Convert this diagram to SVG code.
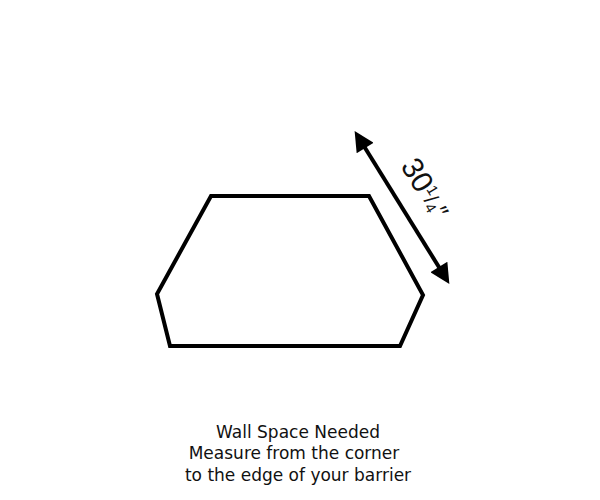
<svg xmlns="http://www.w3.org/2000/svg" width="600" height="500" viewBox="0 0 600 500">
<style>
.shape{fill:none;stroke:#000;stroke-width:4;stroke-linejoin:miter}
.dim{stroke:#000;stroke-width:4}
.lbl{font-family:"DejaVu Sans","Liberation Sans",Arial,sans-serif;font-size:17px;fill:#111;text-anchor:middle}
.dimtxt{font-family:"Liberation Sans",Arial,sans-serif;fill:#111}
</style>
<defs>
<marker id="ah" viewBox="0 0 10 10" refX="3" refY="5" markerWidth="5.5" markerHeight="5" orient="auto-start-reverse" markerUnits="strokeWidth">
<path d="M0,0 L10,5 L0,10 z" fill="#000"/>
</marker>
</defs>
<rect width="600" height="500" fill="#fff"/>
<g id="wall-shape">
<polygon class="shape" points="211,196 369,196 423,295 400,346 170,346 157,294"/>
</g>
<g id="connectors">
<line class="dim" x1="362" y1="143" x2="442" y2="272" marker-start="url(#ah)" marker-end="url(#ah)"/>
</g>
<g id="dimension-label">
<text class="dimtxt" transform="translate(400,166) rotate(58.5)" font-size="30">30<tspan font-size="15" dy="-10">1</tspan><tspan font-size="21" dy="8">/</tspan><tspan font-size="15" dy="3">4</tspan><tspan font-size="25" dy="-2">″</tspan></text>
</g>
<g id="caption">
<text class="lbl" x="298" y="438">Wall Space Needed</text>
<text class="lbl" x="294" y="459">Measure from the corner</text>
<text class="lbl" x="298" y="481">to the edge of your barrier</text>
</g>
</svg>
